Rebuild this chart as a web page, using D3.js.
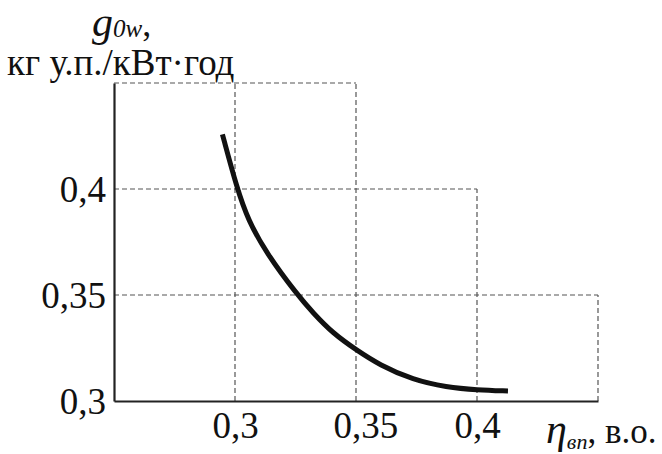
<!DOCTYPE html>
<html><head><meta charset="utf-8">
<script src="https://cdn.jsdelivr.net/npm/d3@7"></script>
<style>body{margin:0;background:#fff}svg{display:block}text{font-family:"Liberation Serif","Times New Roman",serif;fill:#111}</style>
</head><body>
<svg id="c" width="662" height="454"></svg>
<script>
const xTickVals = [0.3, 0.35, 0.4];
const yTickVals = [0.3, 0.35, 0.4];
const xGridVals = [0.3, 0.35, 0.4, 0.45];
const xGridTop  = [0.45, 0.45, 0.4, 0.35];
const yGridVals = [0.35, 0.4, 0.45];
const yGridRight = [0.45, 0.4, 0.35];
const etaValues = [0.2948, 0.3009, 0.3054, 0.3130, 0.3256, 0.3324, 0.3405, 0.3501, 0.3597, 0.3736, 0.3874, 0.4000, 0.4128];
const gValues   = [0.4258, 0.4000, 0.3854, 0.3697, 0.3503, 0.3414, 0.3319, 0.3241, 0.3170, 0.3099, 0.3065, 0.3052, 0.3047];

const svg = d3.select("#c");
const x = d3.scaleLinear().domain([0.25, 0.45]).range([114, 598]);
const y = d3.scaleLinear().domain([0.3, 0.45]).range([401, 83]);
const fmt = d => String(d).replace(".", ",");

// grid (staircase)
const grid = svg.append("g").attr("stroke", "#555").attr("stroke-width", 1.2).attr("stroke-dasharray", "5,3").attr("fill", "none");
grid.selectAll("line.v").data(xGridVals).join("line").attr("class", "v")
  .attr("x1", d => x(d)).attr("x2", d => x(d))
  .attr("y1", y(0.3)).attr("y2", (d, i) => y(xGridTop[i]));
grid.selectAll("line.h").data(yGridVals).join("line").attr("class", "h")
  .attr("y1", d => y(d)).attr("y2", d => y(d))
  .attr("x1", x(0.25)).attr("x2", (d, i) => x(yGridRight[i]));

// axes
const xa = svg.append("g").attr("transform", `translate(0,${y(0.3)})`)
  .call(d3.axisBottom(x).tickValues(xTickVals).tickFormat(fmt).tickSize(0).tickSizeOuter(0).tickPadding(11));
const ya = svg.append("g").attr("transform", `translate(${x(0.25)},0)`)
  .call(d3.axisLeft(y).tickValues(yTickVals).tickFormat(fmt).tickSize(0).tickSizeOuter(0).tickPadding(8));
[xa, ya].forEach(a => {
  a.select(".domain").attr("stroke", "#222").attr("stroke-width", 2.2);
  a.selectAll("text").attr("font-family", "Liberation Serif").attr("font-size", 37).attr("fill", "#111");
});
xa.selectAll("text").attr("dy", "0.71em");
ya.selectAll("text").attr("dy", "0.33em");
// align x tick labels on the decimal comma
xa.selectAll(".tick text").each(function() {
  const t = d3.select(this);
  const s = this.textContent;
  const ci = s.indexOf(",");
  const pre = this.getSubStringLength(0, ci);
  const cw = this.getSubStringLength(ci, 1);
  t.attr("text-anchor", "start").attr("x", -(pre + cw / 2));
});

// curve
svg.append("path")
  .datum(etaValues.map((v, i) => [v, gValues[i]]))
  .attr("fill", "none").attr("stroke", "#111").attr("stroke-width", 5)
  .attr("d", d3.line().x(d => x(d[0])).y(d => y(d[1])).curve(d3.curveBasis));

// y title
const yt = svg.append("text").attr("x", 92).attr("y", 36);
yt.append("tspan").attr("font-style", "italic").attr("font-size", 42).text("g");
yt.append("tspan").attr("font-style", "italic").attr("font-size", 25).attr("dy", 1).text("0w");
yt.append("tspan").attr("font-size", 36).attr("dy", -1).text(",");
svg.append("text").attr("x", 7).attr("y", 75).attr("font-size", 37).text("кг у.п./кВт·год");

// x title
const xt = svg.append("text").attr("x", 546).attr("y", 443);
xt.append("tspan").attr("font-style", "italic").attr("font-size", 42).text("η");
xt.append("tspan").attr("font-style", "italic").attr("font-size", 22).attr("dy", 6).text("вп");
xt.append("tspan").attr("font-size", 35).attr("dy", -6).text(", в.о.");
</script>
</body></html>
